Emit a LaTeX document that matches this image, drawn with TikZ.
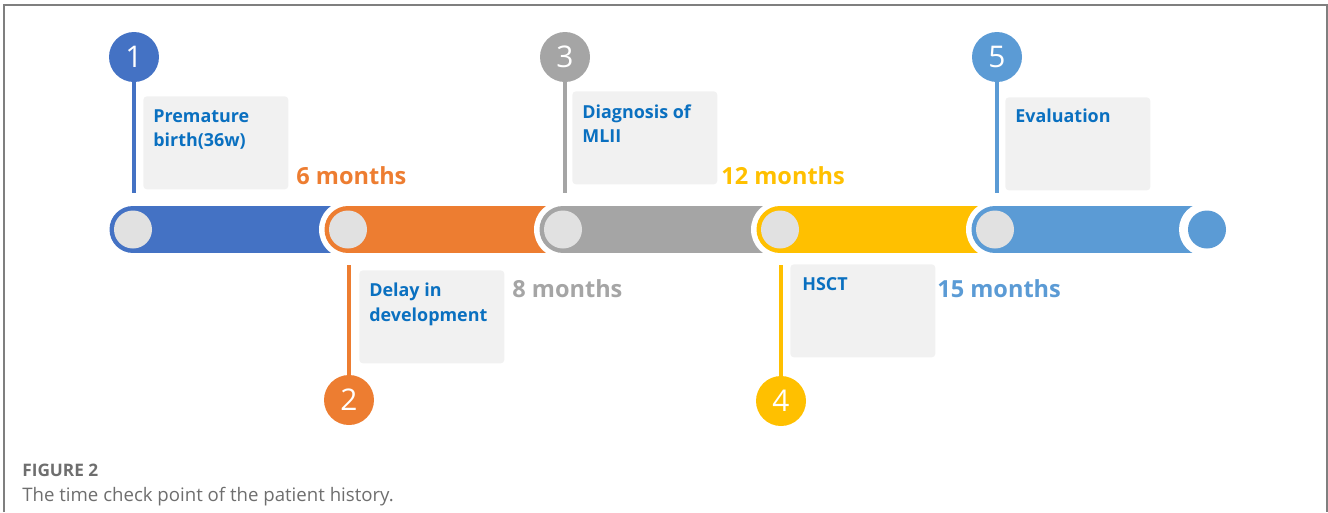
\documentclass[tikz,border=0pt]{standalone}
\usepackage{fontspec}
\setmainfont{Open Sans}
\definecolor{tlblue}{HTML}{4472C4}
\definecolor{tlorange}{HTML}{ED7D31}
\definecolor{tlgray}{HTML}{A5A5A5}
\definecolor{tlyellow}{HTML}{FFC000}
\definecolor{tlsky}{HTML}{5B9BD5}
\definecolor{dotgray}{HTML}{E1E1E1}
\definecolor{boxgray}{HTML}{F1F1F1}
\definecolor{evblue}{HTML}{0A70C0}
\definecolor{capgray}{HTML}{6E6E6E}
\definecolor{framegray}{HTML}{7F7F7F}
\tikzset{
  bar/.style={line width=0.94cm, line cap=round},
  gap/.style={fill=white},
  dot/.style={fill=dotgray},
  stem/.style={line width=2pt},
  num/.style={circle, minimum size=1cm, inner sep=0pt, text=white, font=\fontsize{17}{17}\selectfont},
  infobox/.style={fill=boxgray, rounded corners=2pt, minimum width=2.9cm, minimum height=1.86cm, anchor=north west, inner sep=0pt},
  evtext/.style={anchor=north west, align=left, inner sep=0pt, text=evblue, font=\bfseries\fontsize{10.2}{14}\selectfont},
  months/.style={anchor=base west, inner sep=0pt, font=\bfseries\fontsize{13.4}{16}\selectfont},
}
\begin{document}
\begin{tikzpicture}[x=0.02cm, y=-0.02cm]
  \useasboundingbox (0,0) rectangle (1328,512);
  \draw[framegray, line width=0.8pt] (4,512) -- (4,5) -- (1327,5) -- (1327,512);

  \draw[bar, tlblue]   (133,229.5) -- (348,229.5);
  \fill[dot]           (133,229.5) circle (19);
  \fill[gap]           (348,229.5) circle (29);
  \draw[bar, tlorange] (348,229.5) -- (563,229.5);
  \fill[dot]           (348,229.5) circle (19);
  \fill[gap]           (563,229.5) circle (29);
  \draw[bar, tlgray]   (563,229.5) -- (780,229.5);
  \fill[dot]           (563,229.5) circle (19);
  \fill[gap]           (780,229.5) circle (29);
  \draw[bar, tlyellow] (780,229.5) -- (995,229.5);
  \fill[dot]           (780,229.5) circle (19);
  \fill[gap]           (995,229.5) circle (29);
  \draw[bar, tlsky]    (995,229.5) -- (1206,229.5);
  \fill[dot]           (995,229.5) circle (19);
  \fill[gap]           (1206,229.5) circle (27);
  \fill[tlsky]         (1207,229.5) circle (19);

  \node[num, fill=tlblue]   (n1) at (134,57)  {1};
  \node[num, fill=tlorange] (n2) at (349,400) {2};
  \node[num, fill=tlgray]   (n3) at (565,57)  {3};
  \node[num, fill=tlyellow] (n4) at (781,401) {4};
  \node[num, fill=tlsky]    (n5) at (997,57)  {5};
  \coordinate (s1) at (134,193);
  \coordinate (s2) at (349,265);
  \coordinate (s3) at (565,193);
  \coordinate (s4) at (781,265);
  \coordinate (s5) at (997,193);
  \draw[stem, tlblue]   (n1) -- (s1);
  \draw[stem, tlorange] (n2) -- (s2);
  \draw[stem, tlgray]   (n3) -- (s3);
  \draw[stem, tlyellow] (n4) -- (s4);
  \draw[stem, tlsky]    (n5) -- (s5);

  \node[infobox] (box1) at (143,96)  {};
  \node[infobox] (box2) at (359,270) {};
  \node[infobox] (box3) at (572,91)  {};
  \node[infobox] (box4) at (790,264) {};
  \node[infobox] (box5) at (1005,97) {};
  \node[evtext] (ev1) at ([shift={(10,13)}]box1.north west) {Premature\\birth(36w)};
  \node[evtext] (ev2) at ([shift={(10,13)}]box2.north west) {Delay in\\development};
  \node[evtext] (ev3) at ([shift={(10,13)}]box3.north west) {Diagnosis of\\MLII};
  \node[evtext] (ev4) at ([shift={(12,13)}]box4.north west) {HSCT};
  \node[evtext] (ev5) at ([shift={(10,12)}]box5.north west) {Evaluation};

  \node[months, tlorange] (m6)  at (296,184) {6 months};
  \node[months, tlgray]   (m8)  at (512,297) {8 months};
  \node[months, tlyellow] (m12) at (721,184) {12 months};
  \node[months, tlsky]    (m15) at (937,297) {15 months};

  \node[anchor=base west, inner sep=0pt, text=capgray, font=\bfseries\fontsize{9.8}{11}\selectfont] (figno) at (22,476) {FIGURE 2};
  \node[anchor=base west, inner sep=0pt, text=capgray, font=\fontsize{10.6}{13}\selectfont] (caption) at (22,501) {The time check point of the patient history.};
\end{tikzpicture}
\end{document}
